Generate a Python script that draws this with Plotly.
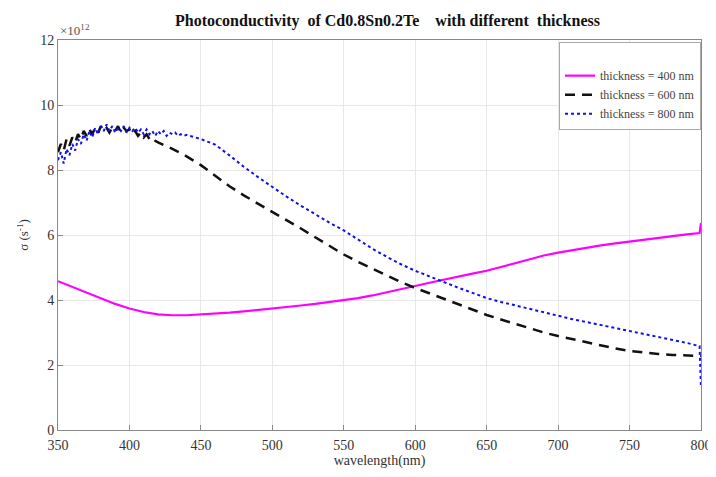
import plotly.graph_objects as go

# thickness = 400 nm
wl_400 = [350, 360, 370, 380, 390, 400, 410, 420, 430, 440, 450, 460, 470, 480, 490, 500, 510, 520, 530, 540,
          550, 560, 570, 580, 590, 600, 610, 620, 630, 640, 650, 660, 670, 680, 690, 700, 710, 720, 730, 740,
          750, 760, 770, 780, 790, 799, 800]
sig_400 = [4.58, 4.4, 4.22, 4.05, 3.88, 3.74, 3.63, 3.56, 3.53, 3.53, 3.55, 3.58, 3.61, 3.65, 3.69, 3.73, 3.78, 3.83, 3.88, 3.94,
           3.99, 4.06, 4.14, 4.23, 4.33, 4.43, 4.53, 4.63, 4.72, 4.81, 4.9, 5.02, 5.14, 5.26, 5.37, 5.46, 5.54, 5.61, 5.68, 5.74,
           5.8, 5.86, 5.92, 5.97, 6.02, 6.06, 6.37]

# thickness = 600 nm
wl_600 = [350, 352, 354, 356, 358, 360, 362, 364, 366, 368, 370, 372, 374, 376, 378, 380, 382, 384, 386, 388,
          390, 392, 394, 396, 398, 400, 402, 404, 406, 408, 410, 412, 414, 416, 418, 420,
          430, 440, 450, 460, 470, 480, 490, 500, 510, 520, 530, 540, 550, 560, 570, 580, 590, 600,
          610, 620, 630, 640, 650, 660, 670, 680, 690, 700, 710, 720, 730, 740, 750, 760, 770, 780, 790, 800]
sig_600 = [8.55, 8.8, 8.6, 8.95, 8.75, 9.0, 8.85, 9.1, 8.95, 9.2, 9.05, 9.25, 9.1, 9.3, 9.15, 9.35, 9.2, 9.3, 9.15, 9.3,
           9.2, 9.35, 9.15, 9.3, 9.2, 9.25, 9.1, 9.2, 9.05, 9.15, 9.0, 9.1, 8.95, 9.0, 8.9, 8.85,
           8.65, 8.42, 8.15, 7.82, 7.5, 7.22, 6.97, 6.72, 6.45, 6.2, 5.93, 5.66, 5.4, 5.17, 4.96, 4.75, 4.55, 4.37,
           4.2, 4.03, 3.86, 3.7, 3.54, 3.4, 3.26, 3.13, 3.0, 2.89, 2.79, 2.69, 2.6, 2.51, 2.43, 2.38, 2.34, 2.31, 2.29, 2.28]

# thickness = 800 nm
wl_800 = [350, 352, 354, 356, 358, 360, 362, 364, 366, 368, 370, 372, 374, 376, 378, 380, 382, 384, 386, 388,
          390, 392, 394, 396, 398, 400, 402, 404, 406, 408, 410, 412, 414, 416, 418, 420, 422, 424, 426, 428,
          430, 432, 434, 436, 438, 440,
          450, 460, 470, 480, 490, 500, 510, 520, 530, 540, 550, 560, 570, 580, 590, 600, 610, 620, 630, 640,
          650, 660, 670, 680, 690, 700, 710, 720, 730, 740, 750, 760, 770, 780, 790, 799, 800]
sig_800 = [8.3, 8.55, 8.2, 8.65, 8.45, 8.8, 8.6, 8.95, 8.8, 9.1, 8.9, 9.2, 9.0, 9.3, 9.1, 9.35, 9.2, 9.4, 9.2, 9.35,
           9.15, 9.3, 9.2, 9.35, 9.15, 9.3, 9.2, 9.3, 9.15, 9.25, 9.1, 9.25, 9.1, 9.2, 9.05, 9.2, 9.1, 9.2, 9.05, 9.15,
           9.1, 9.15, 9.05, 9.1, 9.05, 9.08,
           8.95, 8.78, 8.45, 8.1, 7.78, 7.47, 7.18, 6.9, 6.63, 6.38, 6.14, 5.86, 5.58, 5.33, 5.1, 4.9, 4.72, 4.55, 4.38, 4.22,
           4.06, 3.94, 3.83, 3.72, 3.61, 3.51, 3.41, 3.32, 3.23, 3.14, 3.05, 2.96, 2.87, 2.78, 2.68, 2.58, 1.3]

x_ticks = [350, 400, 450, 500, 550, 600, 650, 700, 750, 800]
y_ticks = [0, 2, 4, 6, 8, 10, 12]

FONT = "Liberation Serif"

fig = go.Figure()
fig.add_trace(go.Scatter(x=wl_400, y=sig_400, mode="lines", name="thickness = 400 nm",
                         line=dict(color="#ff00ff", width=2.2)))
fig.add_trace(go.Scatter(x=wl_600, y=sig_600, mode="lines", name="thickness = 600 nm",
                         line=dict(color="#111111", width=2.5, dash="10px,7px")))
fig.add_trace(go.Scatter(x=wl_800, y=sig_800, mode="lines", name="thickness = 800 nm",
                         line=dict(color="#1010ee", width=2, dash="dot")))

fig.update_layout(
    width=716, height=477,
    margin=dict(l=50, r=13, t=32, b=55),
    paper_bgcolor="white", plot_bgcolor="white",
    font=dict(family=FONT, size=14, color="#333333"),
    title=dict(text="<b>Photoconductivity  of Cd0.8Sn0.2Te    with different  thickness</b>",
               x=0.53, xanchor="center", y=0.975, yanchor="middle",
               font=dict(family=FONT, size=16, color="#111111")),
    showlegend=True,
    legend=dict(x=1.0, xanchor="right", y=0.995, yanchor="top",
                bgcolor="white", bordercolor="#aaaaaa", borderwidth=1,
                font=dict(family=FONT, size=12, color="#444444"),
                title=dict(text=" ", font=dict(size=14)),
                tracegroupgap=0, itemwidth=30),
    xaxis=dict(range=[350, 800], tickvals=x_ticks, showgrid=True, gridcolor="#e8e8e8",
               zeroline=False, showline=True, linecolor="#888888", mirror=True,
               ticks="inside", ticklen=5, tickcolor="#888888", ticklabelstandoff=2,
               title=dict(text="wavelength(nm)", standoff=2, font=dict(size=14))),
    yaxis=dict(range=[0, 12], tickvals=y_ticks, showgrid=True, gridcolor="#e8e8e8",
               zeroline=False, showline=True, linecolor="#888888", mirror=True,
               ticks="inside", ticklen=5, tickcolor="#888888",
               title=dict(text="σ (s<sup>-1</sup>)", standoff=8, font=dict(size=13))),
)
fig.add_annotation(text="×10<sup>12</sup>", xref="paper", yref="paper", x=0.0, y=1.0,
                   xanchor="left", yanchor="bottom", showarrow=False,
                   font=dict(family=FONT, size=13, color="#555555"))

fig.write_html("out.html")
